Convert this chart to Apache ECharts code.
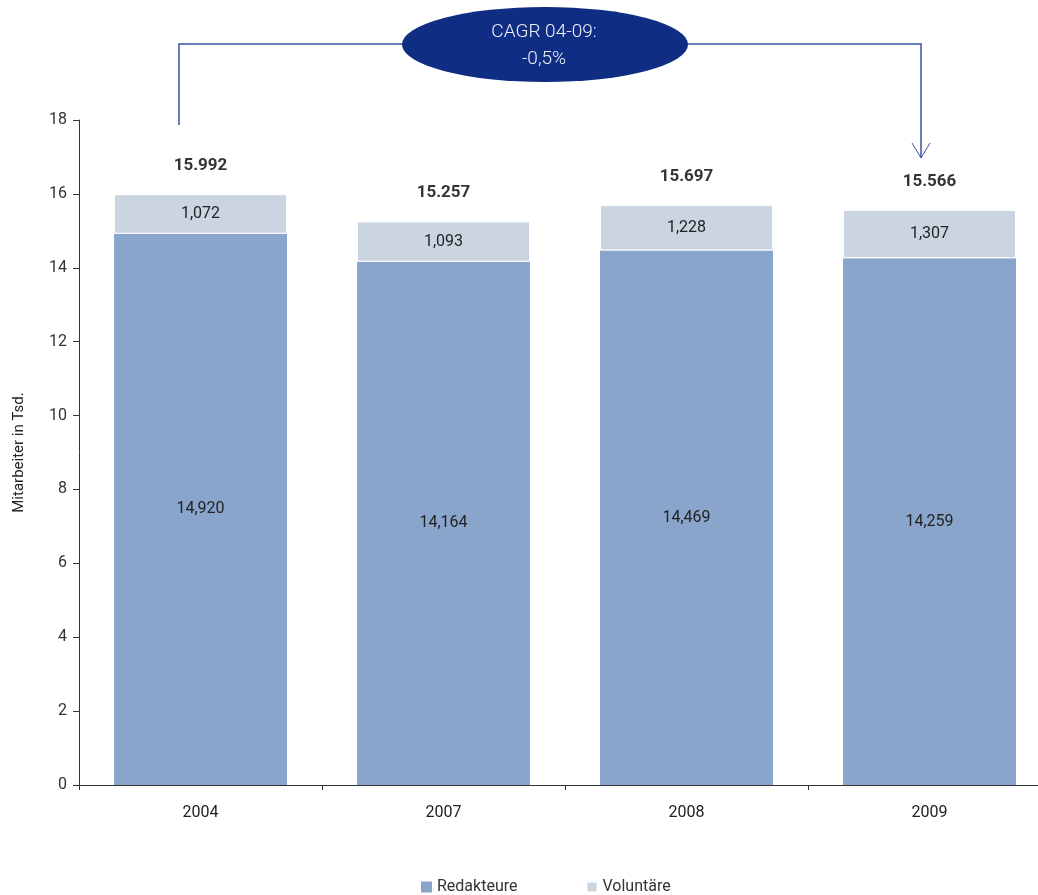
<!DOCTYPE html>
<html>
<head>
<meta charset="utf-8">
<script src="https://cdn.jsdelivr.net/npm/echarts@6/dist/echarts.min.js"></script>
<style>
  html, body { margin: 0; padding: 0; background: #fff; }
  #chart { width: 1038px; height: 895px; }
</style>
</head>
<body>
<div id="chart"></div>
<script>
// Daten (Tsd. Mitarbeiter)
var years = ['2004', '2007', '2008', '2009'];
var redakteure = [14.920, 14.164, 14.469, 14.259];
var volontaere = [1.072, 1.093, 1.228, 1.307];
var totals = [15.992, 15.257, 15.697, 15.566];
var yTicks = [0, 2, 4, 6, 8, 10, 12, 14, 16, 18];

var font = 'Roboto, "Liberation Sans", sans-serif';
var chart = echarts.init(document.getElementById('chart'));

var option = {
    backgroundColor: '#fff',
    textStyle: { fontFamily: font },
    animation: false,
    grid: { left: 79, width: 972, top: 120, bottom: 110, outerBoundsMode: 'none', containLabel: false },
    legend: {
        data: ['Redakteure', 'Voluntäre'],
        left: 416,
        top: 874,
        icon: 'rect',
        itemWidth: 11,
        itemHeight: 11,
        itemGap: 68,
        textStyle: { fontSize: 16, color: '#333', fontFamily: font }
    },
    xAxis: {
        type: 'category',
        data: years,
        axisLine: { lineStyle: { color: '#333', width: 1 } },
        axisTick: { show: true, length: 5, lineStyle: { color: '#333' } },
        axisLabel: { fontSize: 16, color: '#222', margin: 20 }
    },
    yAxis: {
        type: 'value',
        min: yTicks[0],
        max: yTicks[yTicks.length - 1],
        interval: 2,
        name: 'Mitarbeiter in Tsd.',
        nameLocation: 'middle',
        nameGap: 52,
        nameTextStyle: { fontSize: 15, color: '#222' },
        splitLine: { show: false },
        axisLine: { show: true, lineStyle: { color: '#333', width: 1 } },
        axisTick: { show: true, length: 6, lineStyle: { color: '#333' } },
        axisLabel: { fontSize: 16, color: '#333', margin: 12 }
    },
    series: [
        {
            name: 'Redakteure',
            type: 'bar',
            stack: 'gesamt',
            barWidth: 173,
            data: redakteure,
            itemStyle: { color: '#8aa5cb' },
            label: {
                show: true,
                position: 'inside',
                fontSize: 16,
                color: '#222',
                formatter: function (p) { return p.value.toFixed(3).replace('.', ','); }
            }
        },
        {
            name: 'Voluntäre',
            type: 'bar',
            stack: 'gesamt',
            barWidth: 173,
            data: volontaere,
            itemStyle: { color: '#cbd5e2', borderColor: '#fff', borderWidth: 1 },
            label: {
                show: true,
                position: 'inside',
                fontSize: 16,
                color: '#222',
                formatter: function (p) { return p.value.toFixed(3).replace('.', ','); }
            }
        },
        {
            // Summen über den Balken
            name: 'Gesamt',
            type: 'scatter',
            data: totals,
            symbol: 'circle',
            symbolSize: 2,
            itemStyle: { color: 'rgba(255,255,255,0)' },
            silent: true,
            z: 5,
            label: {
                show: true,
                position: 'top',
                distance: 19,
                fontSize: 17,
                fontWeight: 'bold',
                color: '#000',
                formatter: function (p) { return p.value.toFixed(3); }
            }
        }
    ],
    graphic: [
        // CAGR Pfeil
        {
            type: 'polyline',
            shape: { points: [[179, 125], [179, 44], [405, 44]] },
            style: { stroke: '#3a53a5', lineWidth: 1.5, fill: null }
        },
        {
            type: 'polyline',
            shape: { points: [[685, 44], [921, 44], [921, 158]] },
            style: { stroke: '#3a53a5', lineWidth: 1.5, fill: null }
        },
        {
            type: 'polyline',
            shape: { points: [[912, 143], [921, 158], [930, 143]] },
            style: { stroke: '#3a53a5', lineWidth: 1, fill: null }
        },
        {
            type: 'circle',
            x: 545, y: 44.5,
            scaleX: 143 / 37.5,
            shape: { cx: 0, cy: 0, r: 37.5 },
            style: { fill: '#0f2d82' }
        },
        {
            type: 'text',
            x: 544, y: 46,
            style: {
                text: 'CAGR 04-09:\n-0,5%',
                fill: '#eef1f8',
                font: '300 19px ' + font,
                textAlign: 'center',
                textVerticalAlign: 'middle',
                lineHeight: 27
            }
        }
    ]
};

chart.setOption(option);
</script>
</body>
</html>
